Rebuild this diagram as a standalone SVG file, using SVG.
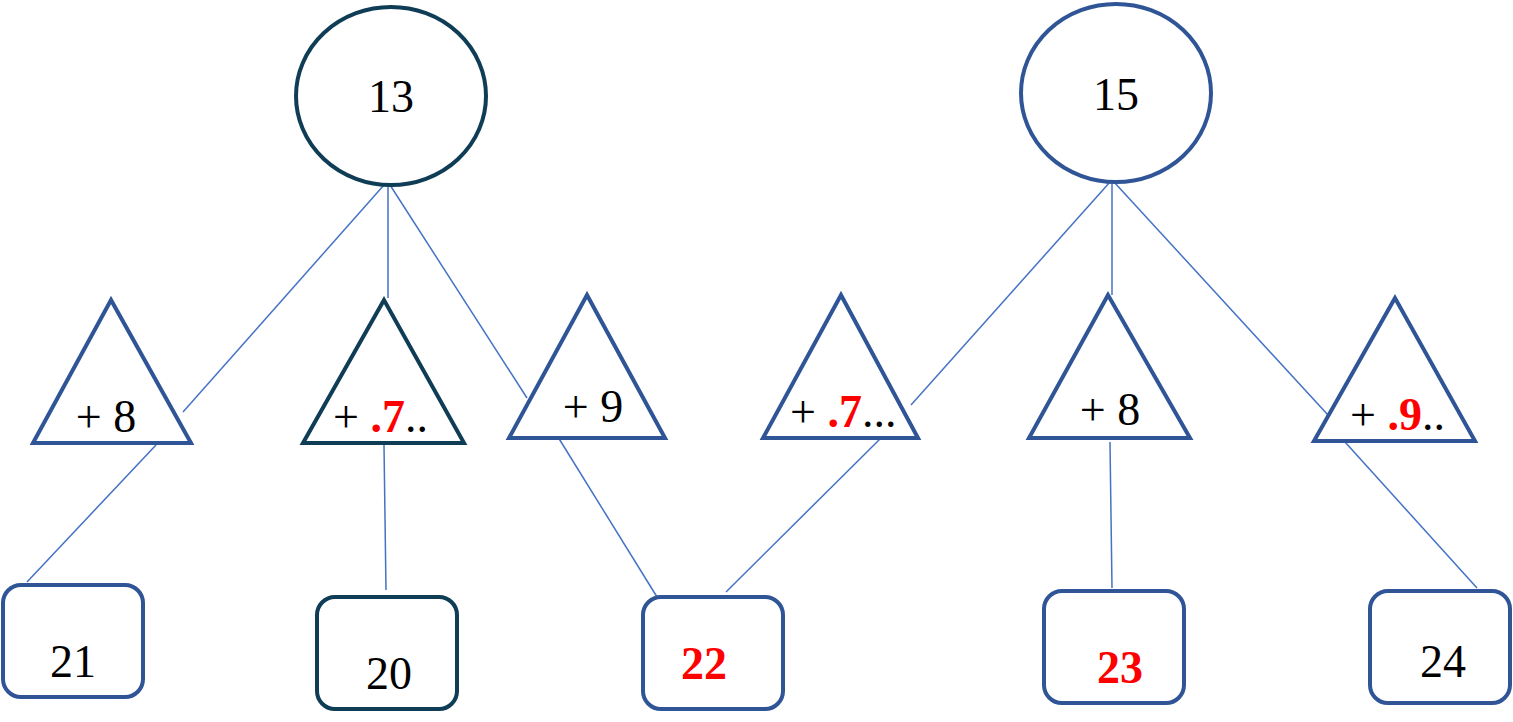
<svg xmlns="http://www.w3.org/2000/svg" width="1513" height="722" viewBox="0 0 1513 722">
<style>
.d{fill:#fff;stroke:#0f3d56;stroke-width:4}
.b{fill:#fff;stroke:#2f5597;stroke-width:4}
.l{stroke:#4472c4;stroke-width:1.5;fill:none}
text{font-family:"Liberation Serif",serif;fill:#000}
.t{font-size:46px}
.r{fill:#ff0000;font-weight:bold}
</style>
<g id="connectors">
<line class="l" x1="384" y1="185" x2="183" y2="412"/>
<line class="l" x1="388" y1="185" x2="388" y2="298"/>
<line class="l" x1="390" y1="185" x2="527" y2="398"/>
<line class="l" x1="156" y1="445" x2="27" y2="582"/>
<line class="l" x1="384" y1="445" x2="386" y2="590"/>
<line class="l" x1="558" y1="437" x2="662" y2="605"/>
<line class="l" x1="882" y1="437" x2="726" y2="592"/>
<line class="l" x1="1110" y1="182" x2="911" y2="405"/>
<line class="l" x1="1112" y1="182" x2="1112" y2="295"/>
<line class="l" x1="1114" y1="182" x2="1328" y2="415"/>
<line class="l" x1="1110" y1="442" x2="1112" y2="588"/>
<line class="l" x1="1345" y1="442" x2="1477" y2="588"/>
</g>
<g id="n13"><ellipse class="d" cx="391" cy="96" rx="95" ry="89"/><text class="t" x="391" y="112" text-anchor="middle">13</text></g>
<g id="n15"><ellipse class="b" cx="1116" cy="93" rx="95" ry="89"/><text class="t" x="1116" y="110" text-anchor="middle">15</text></g>
<g id="t1"><polygon class="b" points="111,300 33,443 191,443"/><text class="t" x="106" y="432" text-anchor="middle">+ 8</text></g>
<g id="t2"><polygon class="d" points="384,300 303,443 464,443"/><text class="t" x="333" y="432">+ <tspan class="r">.7</tspan>..</text></g>
<g id="t3"><polygon class="b" points="587,295 509,438 665,438"/><text class="t" x="593" y="422" text-anchor="middle">+ 9</text></g>
<g id="t4"><polygon class="b" points="841,295 763,438 918,438"/><text class="t" x="790" y="427" font-size="38">+ <tspan class="r" font-size="46">.7</tspan>...</text></g>
<g id="t5"><polygon class="b" points="1108,295 1029,438 1190,438"/><text class="t" x="1110" y="425" text-anchor="middle">+ 8</text></g>
<g id="t6"><polygon class="b" points="1395,298 1314,441 1475,441"/><text class="t" x="1350" y="430" font-size="38">+ <tspan class="r" font-size="46">.9</tspan>..</text></g>
<g id="b21"><rect class="b" x="3" y="585" width="140" height="112" rx="18"/><text class="t" x="73" y="677" text-anchor="middle">21</text></g>
<g id="b20"><rect class="d" x="317" y="597" width="140" height="112" rx="18"/><text class="t" x="389" y="689" text-anchor="middle">20</text></g>
<g id="b22"><rect class="b" x="643" y="597" width="140" height="112" rx="18"/><text class="t r" x="704" y="679" text-anchor="middle">22</text></g>
<g id="b23"><rect class="b" x="1044" y="591" width="140" height="112" rx="18"/><text class="t r" x="1120" y="683" text-anchor="middle">23</text></g>
<g id="b24"><rect class="b" x="1370" y="591" width="140" height="112" rx="18"/><text class="t" x="1443" y="677" text-anchor="middle">24</text></g>
</svg>
